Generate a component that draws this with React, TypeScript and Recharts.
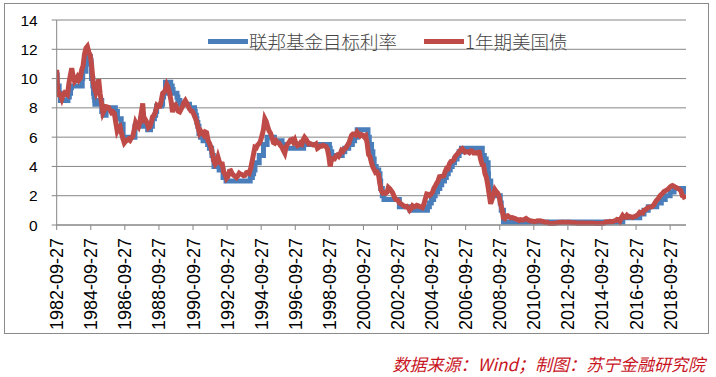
import React from 'react';
import { LineChart, Line, XAxis, YAxis, CartesianGrid, Legend } from 'recharts';

// X axis tick labels (every two years)
const tickLabels = [
  '1982-09-27', '1984-09-27', '1986-09-27', '1988-09-27', '1990-09-27',
  '1992-09-27', '1994-09-27', '1996-09-27', '1998-09-27', '2000-09-27',
  '2002-09-27', '2004-09-27', '2006-09-27', '2008-09-27', '2010-09-27',
  '2012-09-27', '2014-09-27', '2016-09-27', '2018-09-27',
];
const yTicks = [0, 2, 4, 6, 8, 10, 12, 14];
const xStartLabel = '1982-09-27';
const xEndLabel = '2019-09-02';

// Fed funds target rate: change dates and new levels
const fedDates = [
  '1982-09-27', '1982-10-08', '1982-11-19', '1982-12-14', '1983-05-25', '1983-06-24', '1983-07-20', '1983-08-10',
  '1984-03-27', '1984-04-06', '1984-06-15', '1984-07-20', '1984-09-20', '1984-10-02', '1984-10-11', '1984-11-08',
  '1984-11-23', '1984-12-06', '1984-12-18', '1984-12-24', '1985-02-14', '1985-05-20', '1985-06-20', '1985-08-21',
  '1985-12-18', '1986-03-07', '1986-04-21', '1986-07-11', '1986-08-21', '1987-05-01', '1987-09-04', '1987-10-01',
  '1987-10-22', '1987-11-04', '1988-01-28', '1988-03-30', '1988-05-09', '1988-06-22', '1988-07-19', '1988-08-09',
  '1988-11-22', '1988-12-15', '1989-01-05', '1989-02-14', '1989-06-06', '1989-07-07', '1989-07-27', '1989-10-18',
  '1989-11-06', '1989-12-20', '1990-07-13', '1990-10-29', '1990-11-14', '1990-12-07', '1990-12-19', '1991-01-09',
  '1991-02-01', '1991-03-08', '1991-04-30', '1991-08-06', '1991-09-13', '1991-10-31', '1991-11-06', '1991-12-06',
  '1991-12-20', '1992-04-09', '1992-07-02', '1992-09-04', '1994-02-04', '1994-03-22', '1994-04-18', '1994-05-17',
  '1994-08-16', '1994-11-15', '1995-02-01', '1995-07-06', '1995-12-19', '1996-01-31', '1997-03-25', '1998-09-29',
  '1998-10-15', '1998-11-17', '1999-06-30', '1999-08-24', '1999-11-16', '2000-02-02', '2000-03-21', '2000-05-16',
  '2001-01-03', '2001-01-31', '2001-03-20', '2001-04-18', '2001-05-15', '2001-06-27', '2001-08-21', '2001-09-17',
  '2001-10-02', '2001-11-06', '2001-12-11', '2002-11-06', '2003-06-25', '2004-06-30', '2004-08-10', '2004-09-21',
  '2004-11-10', '2004-12-14', '2005-02-02', '2005-03-22', '2005-05-03', '2005-06-30', '2005-08-09', '2005-09-20',
  '2005-11-01', '2005-12-13', '2006-01-31', '2006-03-28', '2006-05-10', '2006-06-29', '2007-09-18', '2007-10-31',
  '2007-12-11', '2008-01-22', '2008-01-30', '2008-03-18', '2008-04-30', '2008-10-08', '2008-10-29', '2008-12-16',
  '2015-12-17', '2016-12-15', '2017-03-16', '2017-06-15', '2017-12-14', '2018-03-22', '2018-06-14', '2018-09-27',
  '2018-12-20', '2019-08-01', '2019-09-02',
];
const fedRates = [
  10.25, 9.5, 9.0, 8.5, 8.75, 9.0, 9.375, 9.5,
  10.0, 10.5, 11.0, 11.5, 11.25, 11.0, 10.0, 9.5,
  9.0, 8.75, 8.5, 8.25, 8.5, 7.75, 7.5, 7.875,
  8.0, 7.75, 7.25, 6.875, 6.0, 6.75, 7.25, 7.5,
  7.0, 6.75, 6.5, 6.75, 7.25, 7.5, 7.75, 8.125,
  8.25, 8.75, 9.0, 9.75, 9.5, 9.25, 9.0, 8.75,
  8.5, 8.25, 8.0, 7.75, 7.5, 7.25, 7.0, 6.75,
  6.25, 6.0, 5.75, 5.5, 5.25, 5.0, 4.75, 4.5,
  4.0, 3.75, 3.25, 3.0, 3.25, 3.5, 3.75, 4.25,
  4.75, 5.5, 6.0, 5.75, 5.5, 5.25, 5.5, 5.25,
  5.0, 4.75, 5.0, 5.25, 5.5, 5.75, 6.0, 6.5,
  6.0, 5.5, 5.0, 4.5, 4.0, 3.75, 3.5, 3.0,
  2.5, 2.0, 1.75, 1.25, 1.0, 1.25, 1.5, 1.75,
  2.0, 2.25, 2.5, 2.75, 3.0, 3.25, 3.5, 3.75,
  4.0, 4.25, 4.5, 4.75, 5.0, 5.25, 4.75, 4.5,
  4.25, 3.5, 3.0, 2.25, 2.0, 1.5, 1.0, 0.2,
  0.5, 0.75, 1.0, 1.25, 1.5, 1.75, 2.0, 2.25,
  2.5, 2.25, 2.25,
];

// 1-year Treasury yield: first value at 1982-09-27, then monthly from 1982-10
const tsyFirstMonth = '1982-10';
const tsyStartValue = 10.6;
const tsy1982 = [9.3, 8.9, 8.9];
const tsy1983 = [8.62, 8.92, 9.04, 8.98, 8.9, 9.66, 10.2, 10.7, 10.16, 9.81, 9.94, 10.11];
const tsy1984 = [9.9, 10.04, 10.59, 10.9, 11.66, 12.08, 12.2, 11.82, 11.58, 10.9, 9.82, 9.33];
const tsy1985 = [9.02, 9.29, 9.95, 8.98, 8.36, 7.66, 7.86, 8.08, 8.06, 8.02, 7.83, 7.67];
const tsy1986 = [7.73, 7.61, 7.03, 6.44, 6.65, 6.73, 6.27, 5.93, 5.6, 5.72, 5.8, 5.87];
const tsy1987 = [5.78, 5.96, 6.03, 6.5, 7.0, 6.8, 6.68, 7.03, 7.67, 8.3, 6.96, 7.17];
const tsy1988 = [6.99, 6.64, 6.71, 7.01, 7.4, 7.49, 7.75, 8.17, 8.09, 8.11, 8.48, 8.99];
const tsy1989 = [9.05, 9.25, 9.57, 9.36, 8.98, 8.44, 7.7, 8.18, 8.22, 7.99, 7.77, 7.72];
const tsy1990 = [7.92, 8.11, 8.35, 8.5, 8.32, 8.1, 7.94, 7.78, 7.76, 7.55, 7.31, 7.05];
const tsy1991 = [6.64, 6.27, 6.4, 6.24, 6.13, 6.36, 6.31, 5.78, 5.57, 5.33, 4.89, 4.38];
const tsy1992 = [4.15, 4.29, 4.63, 4.3, 4.19, 4.17, 3.6, 3.47, 3.18, 3.3, 3.68, 3.71];
const tsy1993 = [3.5, 3.39, 3.33, 3.24, 3.36, 3.54, 3.47, 3.44, 3.36, 3.39, 3.58, 3.61];
const tsy1994 = [3.54, 3.87, 4.32, 4.82, 5.31, 5.27, 5.48, 5.56, 5.76, 6.11, 6.54, 7.25];
const tsy1995 = [7.05, 6.7, 6.43, 6.27, 6.0, 5.64, 5.59, 5.75, 5.62, 5.59, 5.43, 5.31];
const tsy1996 = [5.09, 4.9, 5.34, 5.54, 5.64, 5.81, 5.85, 5.67, 5.83, 5.55, 5.42, 5.47];
const tsy1997 = [5.61, 5.53, 5.8, 5.99, 5.87, 5.69, 5.54, 5.56, 5.52, 5.46, 5.46, 5.53];
const tsy1998 = [5.24, 5.31, 5.39, 5.38, 5.44, 5.41, 5.36, 5.21, 4.71, 4.0, 4.53, 4.52];
const tsy1999 = [4.51, 4.7, 4.78, 4.69, 4.85, 5.1, 5.03, 5.2, 5.25, 5.43, 5.55, 5.84];
const tsy2000 = [6.12, 6.22, 6.22, 6.15, 6.33, 6.17, 6.08, 6.18, 6.13, 6.01, 6.09, 5.6];
const tsy2001 = [4.81, 4.68, 4.3, 3.98, 3.78, 3.58, 3.62, 3.47, 2.82, 2.33, 2.18, 2.22];
const tsy2002 = [2.16, 2.23, 2.57, 2.48, 2.35, 2.2, 1.96, 1.76, 1.72, 1.65, 1.49, 1.45];
const tsy2003 = [1.36, 1.3, 1.24, 1.27, 1.18, 1.01, 1.12, 1.31, 1.24, 1.25, 1.34, 1.31];
const tsy2004 = [1.24, 1.24, 1.19, 1.43, 1.78, 2.12, 2.1, 2.02, 2.12, 2.23, 2.5, 2.67];
const tsy2005 = [2.86, 3.03, 3.3, 3.32, 3.33, 3.36, 3.64, 3.87, 3.85, 4.18, 4.33, 4.35];
const tsy2006 = [4.45, 4.68, 4.77, 4.9, 5.0, 5.16, 5.22, 5.08, 4.97, 5.01, 5.01, 4.94];
const tsy2007 = [5.06, 5.05, 4.92, 4.93, 4.91, 4.96, 4.96, 4.47, 4.14, 4.1, 3.5, 3.26];
const tsy2008 = [2.71, 2.05, 1.45, 1.74, 2.06, 2.42, 2.28, 2.18, 1.91, 1.42, 1.07, 0.49];
const tsy2009 = [0.44, 0.62, 0.64, 0.55, 0.5, 0.51, 0.48, 0.46, 0.4, 0.37, 0.31, 0.37];
const tsy2010 = [0.35, 0.35, 0.4, 0.45, 0.37, 0.32, 0.29, 0.26, 0.26, 0.23, 0.25, 0.29];
const tsy2011 = [0.27, 0.29, 0.26, 0.25, 0.19, 0.18, 0.19, 0.11, 0.1, 0.11, 0.11, 0.12];
const tsy2012 = [0.12, 0.16, 0.19, 0.18, 0.19, 0.19, 0.19, 0.18, 0.18, 0.18, 0.18, 0.16];
const tsy2013 = [0.15, 0.16, 0.15, 0.12, 0.12, 0.14, 0.12, 0.13, 0.12, 0.12, 0.12, 0.13];
const tsy2014 = [0.12, 0.12, 0.13, 0.11, 0.1, 0.1, 0.11, 0.11, 0.11, 0.1, 0.13, 0.21];
const tsy2015 = [0.2, 0.22, 0.25, 0.23, 0.24, 0.28, 0.3, 0.38, 0.37, 0.26, 0.48, 0.65];
const tsy2016 = [0.54, 0.53, 0.66, 0.56, 0.59, 0.55, 0.51, 0.57, 0.59, 0.66, 0.74, 0.87];
const tsy2017 = [0.83, 0.82, 1.01, 1.04, 1.12, 1.2, 1.22, 1.23, 1.28, 1.4, 1.56, 1.7];
const tsy2018 = [1.8, 1.96, 2.06, 2.15, 2.27, 2.33, 2.39, 2.45, 2.56, 2.65, 2.7, 2.66];
const tsy2019 = [2.58, 2.55, 2.49, 2.42, 2.34, 2.0, 1.96, 1.77];

const tsyMonthly = [
  ...tsy1982, ...tsy1983, ...tsy1984, ...tsy1985, ...tsy1986, ...tsy1987, ...tsy1988, ...tsy1989,
  ...tsy1990, ...tsy1991, ...tsy1992, ...tsy1993, ...tsy1994, ...tsy1995, ...tsy1996, ...tsy1997,
  ...tsy1998, ...tsy1999, ...tsy2000, ...tsy2001, ...tsy2002, ...tsy2003, ...tsy2004, ...tsy2005,
  ...tsy2006, ...tsy2007, ...tsy2008, ...tsy2009, ...tsy2010, ...tsy2011, ...tsy2012, ...tsy2013,
  ...tsy2014, ...tsy2015, ...tsy2016, ...tsy2017, ...tsy2018, ...tsy2019,
];

const seriesNames = ['联邦基金目标利率', '1年期美国债'];
const seriesColors = ['#4a7ebb', '#be4b48'];
const sourceText = '数据来源：Wind；制图：苏宁金融研究院';

// date string -> decimal year
const toYear = (s: string) => {
  const [y, m, d] = s.split('-').map(Number);
  const t = Date.UTC(y, (m || 1) - 1, d || 1);
  const t0 = Date.UTC(y, 0, 1);
  const t1 = Date.UTC(y + 1, 0, 1);
  return y + (t - t0) / (t1 - t0);
};

const fedData = fedDates.map((d, i) => ({ x: toYear(d), v: fedRates[i] }));
const [fy, fm] = tsyFirstMonth.split('-').map(Number);
const tsyData = [
  { x: toYear(xStartLabel), v: tsyStartValue },
  ...tsyMonthly.map((v, i) => {
    const mi = fm - 1 + i;
    const yy = fy + Math.floor(mi / 12);
    const mm = (mi % 12) + 1;
    return { x: toYear(`${yy}-${String(mm).padStart(2, '0')}-15`), v };
  }),
];
const tickValues = tickLabels.map(toYear);

const XTick = (props: any) => {
  const { x, y, index } = props;
  return (
    <text
      x={x}
      y={y}
      dy={6.5}
      transform={`rotate(-90, ${x}, ${y})`}
      textAnchor="end"
      fill="#000"
      fontSize={18}
      fontFamily="'Liberation Sans', Arial, sans-serif"
    >
      {tickLabels[index]}
    </text>
  );
};

const renderLegend = () => (
  <div style={{ display: 'flex', alignItems: 'center', fontFamily: "'Noto Sans CJK SC', sans-serif", fontWeight: 300, fontSize: 18.5, color: '#444', whiteSpace: 'nowrap' }}>
    {seriesNames.map((n, i) => (
      <div key={n} style={{ display: 'flex', alignItems: 'center', marginRight: i === 0 ? 27 : 0 }}>
        <div style={{ width: 40, height: 5, background: seriesColors[i], marginRight: 1 }} />
        <span style={{ lineHeight: '20px' }}>{n}</span>
      </div>
    ))}
  </div>
);

export default function App() {
  return (
    <div style={{ position: 'absolute', left: 0, top: 0, width: 716, height: 377, background: '#fff' }}>
      <div style={{ position: 'absolute', left: 4, top: 3, width: 705, height: 331, border: '1.5px solid #8a8a8a', boxSizing: 'border-box' }} />
      <div style={{ position: 'absolute', left: 0, top: 0 }}>
        <LineChart width={716} height={377} margin={{ top: 20, right: 30, left: 0, bottom: 0 }}>
          <CartesianGrid vertical={false} stroke="#868686" strokeWidth={1} />
          <XAxis
            type="number"
            dataKey="x"
            domain={[toYear(xStartLabel), toYear(xEndLabel)]}
            ticks={tickValues}
            tick={<XTick />}
            tickSize={5}
            tickMargin={8}
            height={152}
            stroke="#868686"
            allowDataOverflow
            interval={0}
          />
          <YAxis
            domain={[0, 14]}
            ticks={yTicks}
            width={56.7}
            tickSize={5}
            tickMargin={14}
            stroke="#868686"
            tick={{ fill: '#000', fontSize: 15.5, fontFamily: "'Liberation Sans', Arial, sans-serif" }}
            interval={0}
          />
          <Legend
            layout="vertical"
            align="center"
            verticalAlign="middle"
            wrapperStyle={{ top: 31, left: 208, width: 420, height: 20 }}
            content={renderLegend}
          />
          <Line
            data={fedData}
            dataKey="v"
            name={seriesNames[0]}
            type="stepAfter"
            stroke={seriesColors[0]}
            strokeWidth={5}
            dot={false}
            isAnimationActive={false}
          />
          <Line
            data={tsyData}
            dataKey="v"
            name={seriesNames[1]}
            type="linear"
            stroke={seriesColors[1]}
            strokeWidth={5}
            dot={false}
            isAnimationActive={false}
          />
        </LineChart>
      </div>
      <div
        style={{
          position: 'absolute',
          right: 11,
          top: 355,
          height: 17,
          lineHeight: '17px',
          fontSize: 17,
          fontStyle: 'italic',
          color: '#c8141e',
          fontFamily: "'Noto Sans CJK SC', sans-serif",
          whiteSpace: 'nowrap',
        }}
      >
        {sourceText}
      </div>
    </div>
  );
}
